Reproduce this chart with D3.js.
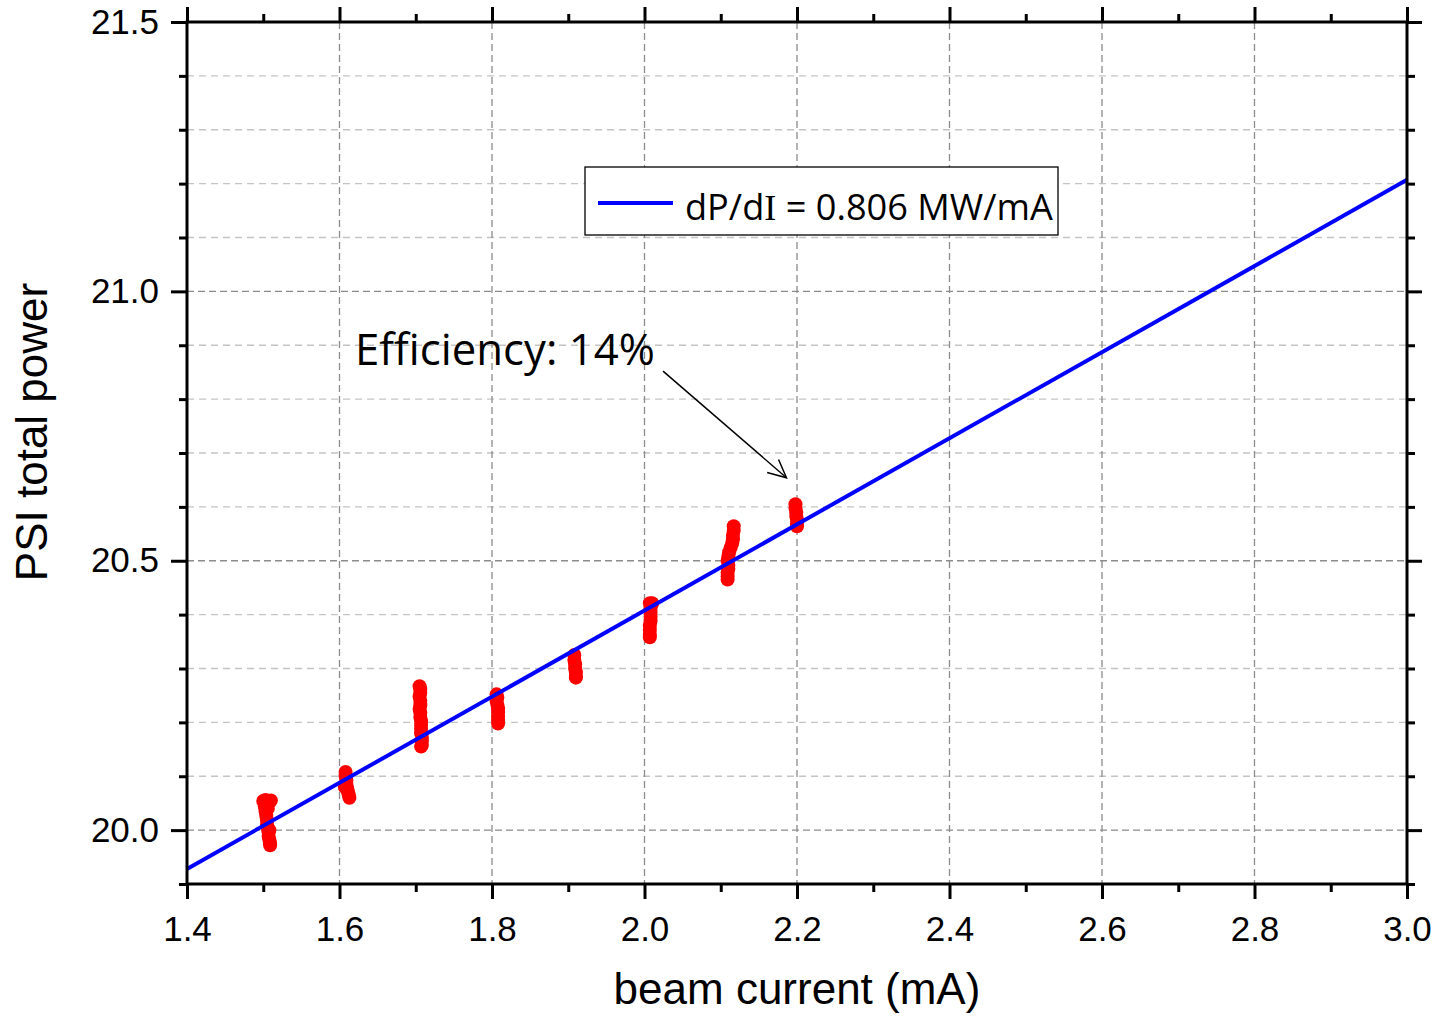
<!DOCTYPE html>
<html lang="en">
<head>
    <meta charset="UTF-8">
    <title>PSI total power vs beam current</title>
    <script src="https://d3js.org/d3.v7.min.js"></script>
    <style>
        body { margin: 0; background: #fff; }
        .tick text { font-family: "Liberation Sans", Arial, sans-serif; font-size: 35px; fill: #000; }
        .axis path, .axis line { stroke: #000; stroke-width: 3px; }
        .grid-major { stroke: #8c8c8c; stroke-width: 1.3px; stroke-dasharray: 7,4; }
        .grid-minor { stroke: #c4c4c4; stroke-width: 1.3px; stroke-dasharray: 7,5; }
        .title { font-family: "Liberation Sans", Arial, sans-serif; font-size: 44px; fill: #000; }
        .note { font-family: "Open Sans", "Noto Sans", sans-serif; fill: #000; }
    </style>
</head>
<body>
<svg width="1437" height="1019"></svg>
<script>
    // measured points: beam current (mA) and PSI total power (MW)
    const current = [
        1.500, 1.503, 1.510, 1.508, 1.502, 1.503, 1.504, 1.505, 1.505, 1.506, 1.507, 1.507, 1.508, 1.509, 1.509, 1.506, 1.508,
        1.608, 1.608, 1.609, 1.609, 1.610, 1.611, 1.612, 1.613, 1.607,
        1.705, 1.706, 1.706, 1.705, 1.706, 1.706, 1.705, 1.706, 1.706, 1.707, 1.707, 1.707, 1.707, 1.708, 1.708, 1.708, 1.707,
        1.806, 1.807, 1.806, 1.807, 1.808, 1.808, 1.808, 1.808, 1.808,
        1.908, 1.908, 1.909, 1.909, 1.910, 1.910, 1.910,
        2.007, 2.010, 2.008, 2.008, 2.008, 2.008, 2.007, 2.007, 2.007, 2.007,
        2.117, 2.117, 2.116, 2.116, 2.115, 2.113, 2.111, 2.110, 2.109, 2.110, 2.110, 2.109, 2.109, 2.109,
        2.198, 2.198, 2.199, 2.199, 2.200, 2.200, 2.200
    ];
    const power = [
        20.054, 20.056, 20.055, 20.052, 20.044, 20.035, 20.026, 20.018, 20.010, 20.003, 19.996, 19.989, 19.982, 19.976, 19.972, 20.040, 20.000,
        20.108, 20.100, 20.092, 20.085, 20.078, 20.072, 20.066, 20.060, 20.080,
        20.267, 20.262, 20.255, 20.248, 20.240, 20.232, 20.225, 20.218, 20.210, 20.202, 20.195, 20.188, 20.180, 20.172, 20.165, 20.158, 20.155,
        20.252, 20.246, 20.240, 20.233, 20.226, 20.219, 20.212, 20.205, 20.198,
        20.325, 20.316, 20.308, 20.300, 20.293, 20.286, 20.283,
        20.421, 20.421, 20.412, 20.404, 20.396, 20.388, 20.380, 20.372, 20.364, 20.358,
        20.564, 20.556, 20.548, 20.540, 20.532, 20.524, 20.516, 20.508, 20.500, 20.492, 20.485, 20.478, 20.471, 20.465,
        20.605, 20.598, 20.590, 20.583, 20.576, 20.569, 20.564
    ];

    // linear fit drawn across the whole axis
    const fitCurrent = [1.4, 3.0];
    const fitPower = [19.928, 21.207];

    const xTicks = [1.4, 1.6, 1.8, 2.0, 2.2, 2.4, 2.6, 2.8, 3.0];
    const xMinor = [1.5, 1.7, 1.9, 2.1, 2.3, 2.5, 2.7, 2.9];
    const yTicks = [20.0, 20.5, 21.0, 21.5];
    const yMinor = [19.9, 20.1, 20.2, 20.3, 20.4, 20.6, 20.7, 20.8, 20.9, 21.1, 21.2, 21.3, 21.4];

    // legend text, the "I" is set in a serif face as in the original
    const legendParts = ["dP/d", "I", " = 0.806 MW/mA"];
    const noteLabel = "Efficiency: 14%";

    const margin = { top: 22, right: 30, bottom: 135, left: 187 };
    const width = 1437, height = 1019;
    const innerW = width - margin.left - margin.right;
    const innerH = height - margin.top - margin.bottom;

    const x = d3.scaleLinear().domain([1.4, 3.0]).range([0, innerW]);
    const y = d3.scaleLinear().domain([19.9, 21.5]).range([innerH, 0]);
    const fmt = d3.format(".1f");

    const svg = d3.select("svg")
        .attr("width", width)
        .attr("height", height);
    const g = svg.append("g")
        .attr("transform", `translate(${margin.left},${margin.top})`);

    // grid
    g.selectAll(".grid-minor")
        .data(yMinor.filter(v => v > 19.95))
        .enter().append("line")
        .attr("class", "grid-minor")
        .attr("x1", 0).attr("x2", innerW)
        .attr("y1", d => y(d)).attr("y2", d => y(d));
    g.selectAll(".gy")
        .data(yTicks.filter(v => v < 21.5))
        .enter().append("line")
        .attr("class", "grid-major gy")
        .attr("x1", 0).attr("x2", innerW)
        .attr("y1", d => y(d)).attr("y2", d => y(d));
    g.selectAll(".gx")
        .data(xTicks.slice(1, -1))
        .enter().append("line")
        .attr("class", "grid-major gx")
        .attr("y1", 0).attr("y2", innerH)
        .attr("x1", d => x(d)).attr("x2", d => x(d));

    const fitLine = d3.line().x(d => x(d[0])).y(d => y(d[1]));
    const fitData = fitCurrent.map((c, i) => [c, fitPower[i]]);

    // points
    g.selectAll(".pt")
        .data(current.map((c, i) => [c, power[i]]))
        .enter().append("circle")
        .attr("class", "pt")
        .attr("cx", d => x(d[0]))
        .attr("cy", d => y(d[1]))
        .attr("r", 7)
        .attr("fill", "#ff0000");

    // fit line on top of the points
    g.append("path")
        .datum(fitData)
        .attr("fill", "none")
        .attr("stroke", "#0000ff")
        .attr("stroke-width", 4)
        .attr("d", fitLine);

    // axes: bottom/left outward, top/right inward
    function axisGroup(axis, transform) {
        const a = g.append("g").attr("class", "axis").attr("transform", transform).call(axis);
        a.select(".domain").remove();
        return a;
    }
    axisGroup(d3.axisBottom(x).tickValues(xTicks).tickFormat(fmt).tickSize(15).tickPadding(17), `translate(0,${innerH})`);
    axisGroup(d3.axisBottom(x).tickValues(xMinor).tickFormat("").tickSize(8), `translate(0,${innerH})`);
    axisGroup(d3.axisBottom(x).tickValues(xTicks).tickFormat("").tickSize(-15), "translate(0,0)");
    axisGroup(d3.axisBottom(x).tickValues(xMinor).tickFormat("").tickSize(-8), "translate(0,0)");
    axisGroup(d3.axisLeft(y).tickValues(yTicks).tickFormat(fmt).tickSize(16).tickPadding(12), "translate(0,0)");
    axisGroup(d3.axisLeft(y).tickValues(yMinor).tickFormat("").tickSize(8), "translate(0,0)");
    axisGroup(d3.axisLeft(y).tickValues(yTicks).tickFormat("").tickSize(-15), `translate(${innerW},0)`);
    axisGroup(d3.axisLeft(y).tickValues(yMinor).tickFormat("").tickSize(-8), `translate(${innerW},0)`);

    // frame
    g.append("rect")
        .attr("x", 0).attr("y", 0)
        .attr("width", innerW).attr("height", innerH)
        .attr("fill", "none")
        .attr("stroke", "#000")
        .attr("stroke-width", 3);

    // axis titles
    svg.append("text")
        .attr("class", "title")
        .attr("x", margin.left + innerW / 2)
        .attr("y", 1004)
        .attr("text-anchor", "middle")
        .text("beam current (mA)");
    svg.append("text")
        .attr("class", "title")
        .attr("transform", "translate(47,432) rotate(-90)")
        .attr("text-anchor", "middle")
        .text("PSI total power");

    // scale a text so that it spans a given width
    function fitWidth(sel, w) {
        const len = sel.node().getComputedTextLength();
        const fs = parseFloat(sel.attr("font-size"));
        sel.attr("font-size", fs * w / len);
    }

    // legend
    const leg = svg.append("g");
    leg.append("rect")
        .attr("x", 585).attr("y", 167)
        .attr("width", 473).attr("height", 68)
        .attr("fill", "#fff")
        .attr("stroke", "#000")
        .attr("stroke-width", 1.3);
    leg.append("line")
        .attr("x1", 598).attr("x2", 673)
        .attr("y1", 203).attr("y2", 203)
        .attr("stroke", "#0000ff")
        .attr("stroke-width", 4);
    const legText = leg.append("text")
        .attr("class", "note")
        .attr("x", 685).attr("y", 220)
        .attr("font-size", 40);
    legText.selectAll("tspan")
        .data(legendParts)
        .enter().append("tspan")
        .style("font-family", (d, i) => i === 1 ? "'Liberation Serif', serif" : null)
        .text(d => d);
    fitWidth(legText, 368);

    // annotation with arrow
    const note = g.append("text")
        .attr("class", "note")
        .attr("x", x(1.6203)).attr("y", y(20.864))
        .attr("font-size", 40)
        .text(noteLabel);
    fitWidth(note, 300);

    const a0 = [x(2.0243), y(20.852)];
    const a1 = [x(2.1862), y(20.654)];
    g.append("line")
        .attr("x1", a0[0]).attr("y1", a0[1])
        .attr("x2", a1[0]).attr("y2", a1[1])
        .attr("stroke", "#000").attr("stroke-width", 1.5);
    const ang = Math.atan2(a1[1] - a0[1], a1[0] - a0[0]);
    const head = 20, spread = 0.45;
    g.append("path")
        .attr("d", d3.line()([
            [a1[0] - head * Math.cos(ang - spread), a1[1] - head * Math.sin(ang - spread)],
            a1,
            [a1[0] - head * Math.cos(ang + spread), a1[1] - head * Math.sin(ang + spread)]
        ]))
        .attr("fill", "none")
        .attr("stroke", "#000").attr("stroke-width", 1.5);
</script>
</body>
</html>
